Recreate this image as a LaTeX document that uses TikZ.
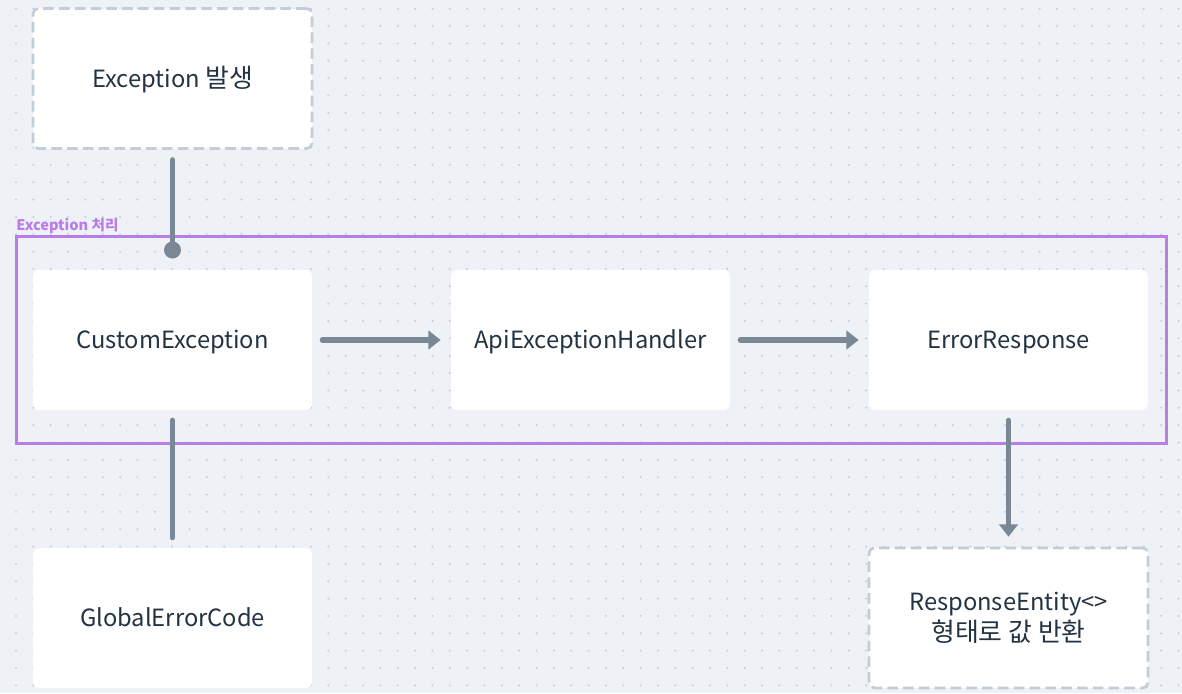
\documentclass[tikz,border=0pt]{standalone}
\usepackage{fontspec}
\setmainfont{Noto Sans CJK KR}
\newfontfamily\hangul{Noto Sans CJK KR}[Scale=1.09]
\usetikzlibrary{arrows.meta}
\definecolor{bgpaper}{HTML}{EEF2F6}
\definecolor{griddot}{HTML}{C4CDD6}
\definecolor{wire}{HTML}{7A8896}
\definecolor{dashline}{HTML}{C3CDD7}
\definecolor{groupline}{HTML}{B87DE8}
\definecolor{inktext}{HTML}{243342}

\begin{document}
\begin{tikzpicture}[x=0.02cm,y=-0.02cm,
		block/.style={fill=white,rounded corners=3pt,minimum width=5.58cm,minimum height=2.8cm,
			text=inktext,font=\fontsize{13.5}{16}\selectfont,align=center,inner sep=0pt,
			text height=13pt,text depth=3pt},
		terminal/.style={block,draw=dashline,line width=1.5pt,dash pattern=on 6pt off 3pt},
		wireline/.style={draw=wire,line width=3pt,line cap=round},
		wirearrow/.style={wireline,-{Triangle[length=7pt,width=10.5pt]}}]
	% paper with dotted grid
	\fill[bgpaper] (0,0) rectangle (1182,693);
	\foreach \gx in {0,...,67}
		\foreach \gy in {0,...,39}
			\fill[griddot] (16+17.35*\gx,8.7+17.35*\gy) circle (0.022cm);
	\useasboundingbox (0,0) rectangle (1182,693);
	% group frame
	\node[draw=groupline,line width=1.7pt,minimum width=23.02cm,minimum height=4.16cm,inner sep=0pt] (grp) at (591.5,340) {};
	\node[anchor=base west,inner sep=0pt,text=groupline,font=\fontsize{8.3}{10}\selectfont\bfseries] (grplabel) at (16,230.5) {Exception 처리};
	% blocks
	\node[terminal] (raise) at (172.5,78.5) {Exception {\hangul 발생}};
	\node[block] (custom) at (172.5,340) {CustomException};
	\node[block] (handler) at (590.5,340) {ApiExceptionHandler};
	\node[block] (errresp) at (1008.5,340) {ErrorResponse};
	\node[block] (code) at (172.5,618) {GlobalErrorCode};
	\node[terminal,text height=,text depth=,font=\fontsize{13.5}{17.5}\selectfont] (entity) at (1008.5,618) {ResponseEntity<>\\{\hangul 형태로 값 반환}};
	% connectors
	\coordinate (hit) at (172.5,250);
	\draw[wireline] ([yshift=-0.2cm]raise.south) -- (hit);
	\fill[wire] (hit) circle (0.17cm);
	\draw[wirearrow] ([xshift=0.2cm]custom.east) -- ([xshift=-0.2cm]handler.west);
	\draw[wirearrow] ([xshift=0.2cm]handler.east) -- ([xshift=-0.2cm]errresp.west);
	\draw[wirearrow] ([yshift=-0.2cm]errresp.south) -- ([yshift=0.2cm]entity.north);
	\draw[wireline] ([yshift=-0.2cm]custom.south) -- ([yshift=0.2cm]code.north);
\end{tikzpicture}
\end{document}
